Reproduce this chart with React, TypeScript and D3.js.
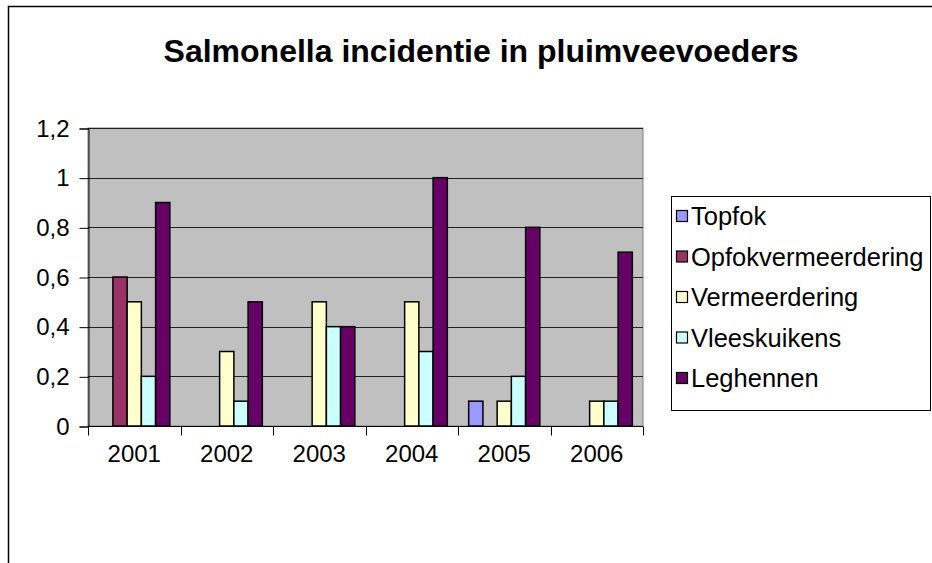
import React, { useEffect, useRef } from 'react';
import * as d3 from 'd3';

const years = ['2001', '2002', '2003', '2004', '2005', '2006'];
const seriesNames = ['Topfok', 'Opfokvermeerdering', 'Vermeerdering', 'Vleeskuikens', 'Leghennen'];
const seriesColors = ['#9999FF', '#993366', '#FFFFCC', '#CCFFFF', '#660066'];
const topfok = [0, 0, 0, 0, 0.1, 0];
const opfok = [0.6, 0, 0, 0, 0, 0];
const vermeerdering = [0.5, 0.3, 0.5, 0.5, 0.1, 0.1];
const vleeskuikens = [0.2, 0.1, 0.4, 0.3, 0.2, 0.1];
const leghennen = [0.9, 0.5, 0.4, 1, 0.8, 0.7];
const yTicks = [0, 0.2, 0.4, 0.6, 0.8, 1, 1.2];

const App = () => {
  const ref = useRef<SVGSVGElement>(null);

  useEffect(() => {
    const svg = d3.select(ref.current);
    svg.selectAll('*').remove();
    const font = '"Liberation Sans", Arial, sans-serif';
    const values = [topfok, opfok, vermeerdering, vleeskuikens, leghennen];

    // chart border
    svg.append('rect')
      .attr('x', 8.5).attr('y', 6.5).attr('width', 940).attr('height', 600)
      .attr('fill', '#fff').attr('stroke', '#000').attr('stroke-width', 1.5);

    svg.append('text')
      .attr('x', 481).attr('y', 62)
      .attr('text-anchor', 'middle')
      .style('font-family', font).style('font-weight', 'bold').style('font-size', '32px')
      .text('Salmonella incidentie in pluimveevoeders');

    const left = 88, right = 643, top = 128, bottom = 426;
    const x = d3.scaleBand().domain(years).range([left, right]);
    const y = d3.scaleLinear().domain([0, 1.2]).range([bottom, top]);
    const inner = d3.scaleBand().domain(seriesNames).range([0, x.bandwidth()]).paddingOuter(0.75);

    svg.append('rect')
      .attr('x', left).attr('y', top).attr('width', right - left).attr('height', bottom - top)
      .attr('fill', '#C0C0C0').attr('stroke', '#808080').attr('stroke-width', 1);

    svg.append('g').selectAll('line').data(yTicks).enter().append('line')
      .attr('x1', left).attr('x2', right)
      .attr('y1', d => Math.round(y(d)) + 0.5).attr('y2', d => Math.round(y(d)) + 0.5)
      .attr('stroke', '#222').attr('stroke-width', 1);

    // y axis
    const yAxis = svg.append('g').attr('transform', `translate(${left + 0.5},0.5)`)
      .call(d3.axisLeft(y).tickValues(yTicks).tickSize(9).tickPadding(10)
        .tickFormat(d => d3.format('.1~f')(d as number).replace('.', ',')));
    yAxis.select('.domain').attr('stroke', '#000');
    yAxis.selectAll('.tick line').attr('stroke', '#000');
    yAxis.selectAll('text').style('font-family', font).style('font-size', '24px').attr('fill', '#000');

    // x axis
    const xAxis = svg.append('g').attr('transform', `translate(0,${bottom + 0.5})`);
    xAxis.append('line').attr('x1', left).attr('x2', right).attr('stroke', '#000');
    xAxis.selectAll('.tk').data(d3.range(years.length + 1)).enter().append('line')
      .attr('x1', i => Math.round(left + i * x.step()) + 0.5)
      .attr('x2', i => Math.round(left + i * x.step()) + 0.5)
      .attr('y1', 0).attr('y2', 9).attr('stroke', '#000');
    xAxis.selectAll('text').data(years).enter().append('text')
      .attr('x', d => (x(d) as number) + x.bandwidth() / 2)
      .attr('y', 35)
      .attr('text-anchor', 'middle')
      .style('font-family', font).style('font-size', '24px')
      .text(d => d);

    // bars
    const bars = svg.append('g');
    seriesNames.forEach((name, si) => {
      values[si].forEach((v, i) => {
        if (v <= 0) return;
        bars.append('rect')
          .attr('x', (x(years[i]) as number) + (inner(name) as number))
          .attr('width', inner.bandwidth())
          .attr('y', y(v))
          .attr('height', bottom - y(v))
          .attr('fill', seriesColors[si])
          .attr('stroke', '#000').attr('stroke-width', 1.5);
      });
    });

    // legend
    const lg = svg.append('g');
    lg.append('rect')
      .attr('x', 671.5).attr('y', 196.5).attr('width', 259).attr('height', 214)
      .attr('fill', '#fff').attr('stroke', '#000').attr('stroke-width', 1);
    seriesNames.forEach((name, i) => {
      const cy = 216 + i * 40.5;
      lg.append('rect')
        .attr('x', 676.5).attr('y', cy - 5.5).attr('width', 11).attr('height', 11)
        .attr('fill', seriesColors[i]).attr('stroke', '#000').attr('stroke-width', 1.2);
      lg.append('text')
        .attr('x', 691).attr('y', cy + 9)
        .style('font-family', font).style('font-size', '25.5px')
        .text(name);
    });
  }, []);

  return (
    <svg ref={ref} width={932} height={563}
      style={{ position: 'absolute', left: 0, top: 0, display: 'block' }} />
  );
};

export default App;
